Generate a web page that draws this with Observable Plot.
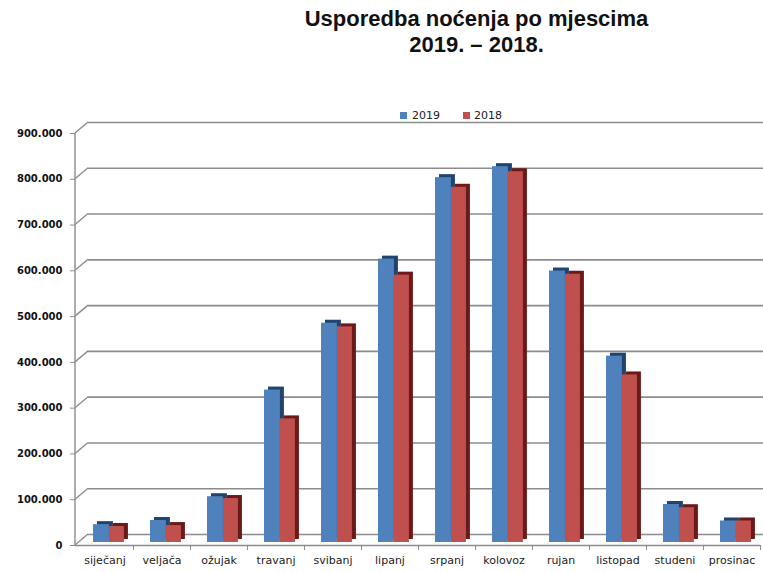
<!DOCTYPE html>
<html>
<head>
<meta charset="utf-8">
<script src="https://cdn.jsdelivr.net/npm/d3@7"></script>
<script src="https://cdn.jsdelivr.net/npm/@observablehq/plot@0.6"></script>
<style>
  body { margin: 0; background: #fff; width: 763px; height: 572px; overflow: hidden; }
  #title { height: 100px; box-sizing: border-box; padding-top: 6px; padding-left: 190px; text-align: center;
           font: bold 22px/25.5px "Liberation Sans", Arial, sans-serif; color: #111; }
  #legend { position: relative; height: 18px; font: 11px "DejaVu Sans", sans-serif; color: #222; }
  #legend .sw { position: absolute; top: 12px; width: 7px; height: 7px; }
  #legend .lb { position: absolute; top: 9px; line-height: 13px; }
  #chart svg { display: block; }
</style>
</head>
<body>
<div id="title">Usporedba noćenja po mjescima<br>2019. – 2018.</div>
<div id="legend"></div>
<div id="chart"></div>
<script>
const months = ["siječanj","veljača","ožujak","travanj","svibanj","lipanj","srpanj","kolovoz","rujan","listopad","studeni","prosinac"];
const v2019 = [39000, 48000, 100000, 333000, 479000, 619000, 797000, 821000, 593000, 407000, 83000, 47000];
const v2018 = [35000, 37000, 96000, 270000, 471000, 584000, 776000, 810000, 586000, 366000, 76000, 47000];
const yTicks = [0, 100000, 200000, 300000, 400000, 500000, 600000, 700000, 800000, 900000];
const seriesNames = ["2019", "2018"];
const seriesColors = ["#4f81bd", "#c0504d"];
const depthColors = ["#22436e", "#6a1a18"];

const rows = months.map((m, i) => ({month: m, y2019: v2019[i], y2018: v2018[i]}));
const fmt = d3.formatLocale({decimal: ",", thousands: ".", grouping: [3], currency: ["", ""]}).format(",");

const W = 763, H = 454, ML = 75, MR = 3, MT = 15, MB = 27;
const step = (W - ML - MR) / months.length;
const gridColor = "#8c8c8c";

// legend
const legend = document.getElementById("legend");
const legendX = [[400, 412], [463, 474]];
seriesNames.forEach((s, i) => {
  const sw = document.createElement("span");
  sw.className = "sw"; sw.style.left = legendX[i][0] + "px"; sw.style.background = seriesColors[i];
  const lb = document.createElement("span");
  lb.className = "lb"; lb.style.left = legendX[i][1] + "px"; lb.textContent = s;
  legend.append(sw, lb);
});

const barOpts = (key, k, depth) => ({
  x: "month", y: key,
  fill: depth ? depthColors[k] : seriesColors[k],
  insetLeft: (k === 0 ? 17 : 33) + (depth ? 4 : 0),
  insetRight: step - (k === 0 ? 33 : 48) - (depth ? 4 : 0),
  dy: depth ? -6 : -3
});

const chart = Plot.plot({
  width: W, height: H,
  marginLeft: ML, marginRight: MR, marginTop: MT, marginBottom: MB,
  style: {background: "white", color: "#111", overflow: "visible"},
  x: {domain: months, padding: 0, axis: null},
  y: {domain: [0, 900000], axis: null},
  marks: [
    Plot.ruleY(yTicks, {dx: 13, dy: -11, stroke: gridColor, strokeWidth: 1.6}),
    Plot.ruleY([0], {stroke: gridColor, strokeWidth: 1.5}),
    Plot.axisY(yTicks, {tickSize: 5, tickPadding: 8, tickFormat: fmt, fontSize: 10, fontWeight: "bold",
                        fontFamily: "DejaVu Sans", stroke: gridColor, fill: "#111", label: null}),
    Plot.axisX({tickSize: 0, tickPadding: 11, fontSize: 11, fontFamily: "DejaVu Sans", fill: "#222", label: null}),
    Plot.axisX({tickSize: 5, tickFormat: () => "", dx: step / 2, stroke: gridColor, label: null}),
    Plot.barY(rows, barOpts("y2019", 0, true)),
    Plot.barY(rows, barOpts("y2019", 0, false)),
    Plot.barY(rows, barOpts("y2018", 1, true)),
    Plot.barY(rows, barOpts("y2018", 1, false))
  ]
});

// front wall edge and the diagonal links to the back-wall gridlines, from the plot's own scales
const ys = chart.scale("y"), xs = chart.scale("x");
const x0 = xs.range[0];
const g = d3.select(chart).append("g").attr("stroke", gridColor).attr("stroke-width", 1.4);
g.append("line").attr("x1", x0).attr("x2", x0).attr("y1", ys.apply(0)).attr("y2", ys.apply(900000));
yTicks.forEach(v => {
  g.append("line").attr("x1", x0).attr("y1", ys.apply(v)).attr("x2", x0 + 13).attr("y2", ys.apply(v) - 11);
});

document.getElementById("chart").append(chart);
</script>
</body>
</html>
